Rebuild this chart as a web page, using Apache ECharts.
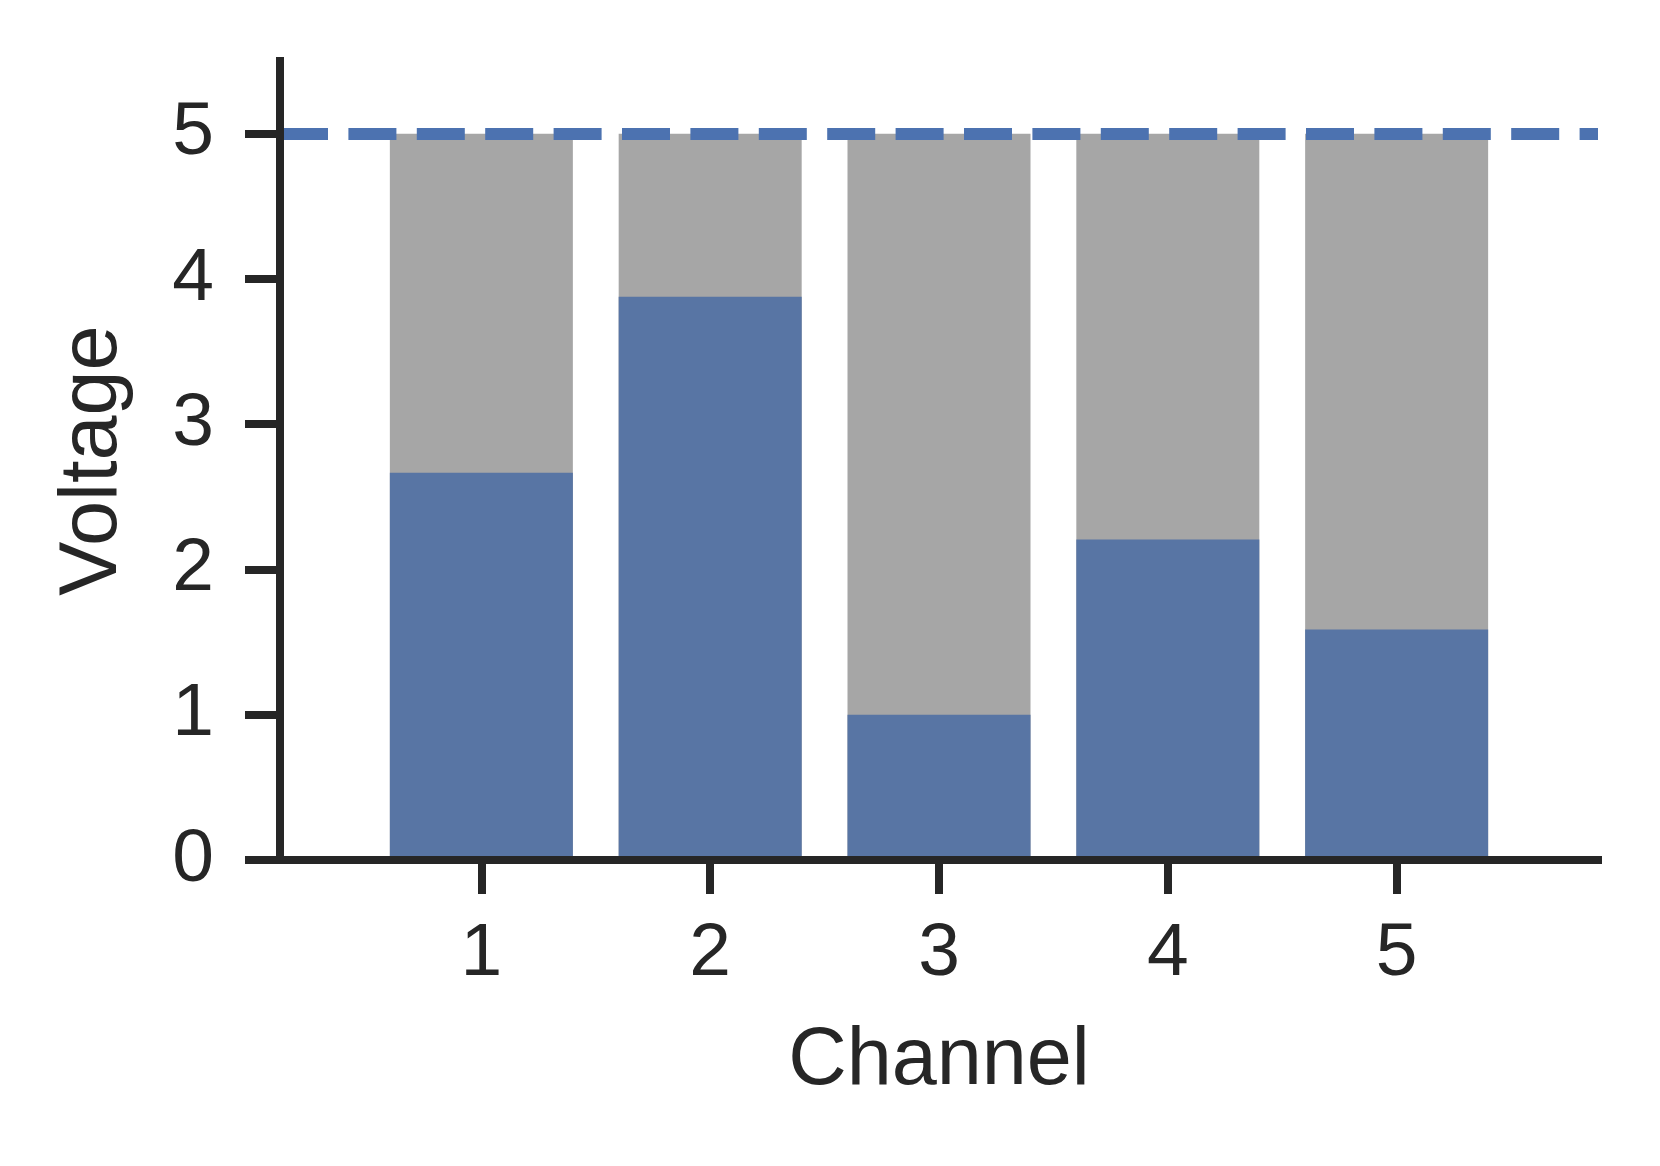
<!DOCTYPE html>
<html>
<head>
<meta charset="utf-8">
<script src="https://cdn.jsdelivr.net/npm/echarts@6/dist/echarts.min.js"></script>
<style>
html,body{margin:0;padding:0;background:#fff;}
#chart{width:1660px;height:1166px;}
</style>
</head>
<body>
<div id="chart"></div>
<script>
// ---- data ----
const channels = [1, 2, 3, 4, 5];
const xTickLabels = ['1', '2', '3', '4', '5'];
const yTickValues = [0, 1, 2, 3, 4, 5];
const voltage = [2.665, 3.877, 1.0, 2.206, 1.586];
const capacity = [5, 5, 5, 5, 5];
const limitLevel = 5;
const xRange = [0.12, 5.88];
const yRange = [0, 5.5];

const TEXT = '#262626';
const FONT = 'Liberation Sans';

const chart = echarts.init(document.getElementById('chart'), null, {renderer: 'canvas'});

const pair = (arr) => channels.map((c, i) => [c, arr[i]]);

chart.setOption({
  animation: false,
  backgroundColor: '#ffffff',
  grid: {left: 280, right: 62, top: 61, bottom: 306, containLabel: false},
  xAxis: {
    type: 'value',
    min: xRange[0],
    max: xRange[1],
    z: 10,
    name: 'Channel',
    nameLocation: 'middle',
    nameGap: 161,
    nameTextStyle: {fontFamily: FONT, fontSize: 81, color: TEXT},
    axisLine: {show: true, lineStyle: {color: TEXT, width: 8, cap: 'square'}},
    axisTick: {show: true, length: 34, lineStyle: {color: TEXT, width: 8}, customValues: channels},
    axisLabel: {
      show: true, margin: 57, fontFamily: FONT, fontSize: 75, color: TEXT,
      customValues: channels,
      formatter: (v) => xTickLabels[channels.indexOf(Math.round(v))] ?? ''
    },
    splitLine: {show: false}
  },
  yAxis: {
    type: 'value',
    min: yRange[0],
    max: yRange[1],
    z: 10,
    name: 'Voltage',
    nameLocation: 'middle',
    nameRotate: 90,
    nameGap: 146,
    nameTextStyle: {fontFamily: FONT, fontSize: 81, color: TEXT},
    axisLine: {show: true, lineStyle: {color: TEXT, width: 8, cap: 'square'}},
    axisTick: {show: true, length: 35, lineStyle: {color: TEXT, width: 8}, customValues: yTickValues},
    axisLabel: {
      show: true, margin: 66, fontFamily: FONT, fontSize: 75, color: TEXT,
      customValues: yTickValues,
      formatter: (v) => String(v)
    },
    splitLine: {show: false}
  },
  series: [
    {
      name: 'Capacity',
      type: 'bar',
      data: pair(capacity),
      barWidth: 183,
      barGap: '-100%',
      itemStyle: {color: '#a6a6a6'},
      z: 2
    },
    {
      name: 'Voltage',
      type: 'bar',
      data: pair(voltage),
      barWidth: 183,
      barGap: '-100%',
      itemStyle: {color: '#5875a4'},
      z: 3,
      markLine: {
        silent: true,
        symbol: ['none', 'none'],
        label: {show: false},
        lineStyle: {color: '#4c72b0', width: 12, type: [48, 20.4], cap: 'butt'},
        data: [{yAxis: limitLevel}],
        z: 5
      }
    }
  ]
});
</script>
</body>
</html>
